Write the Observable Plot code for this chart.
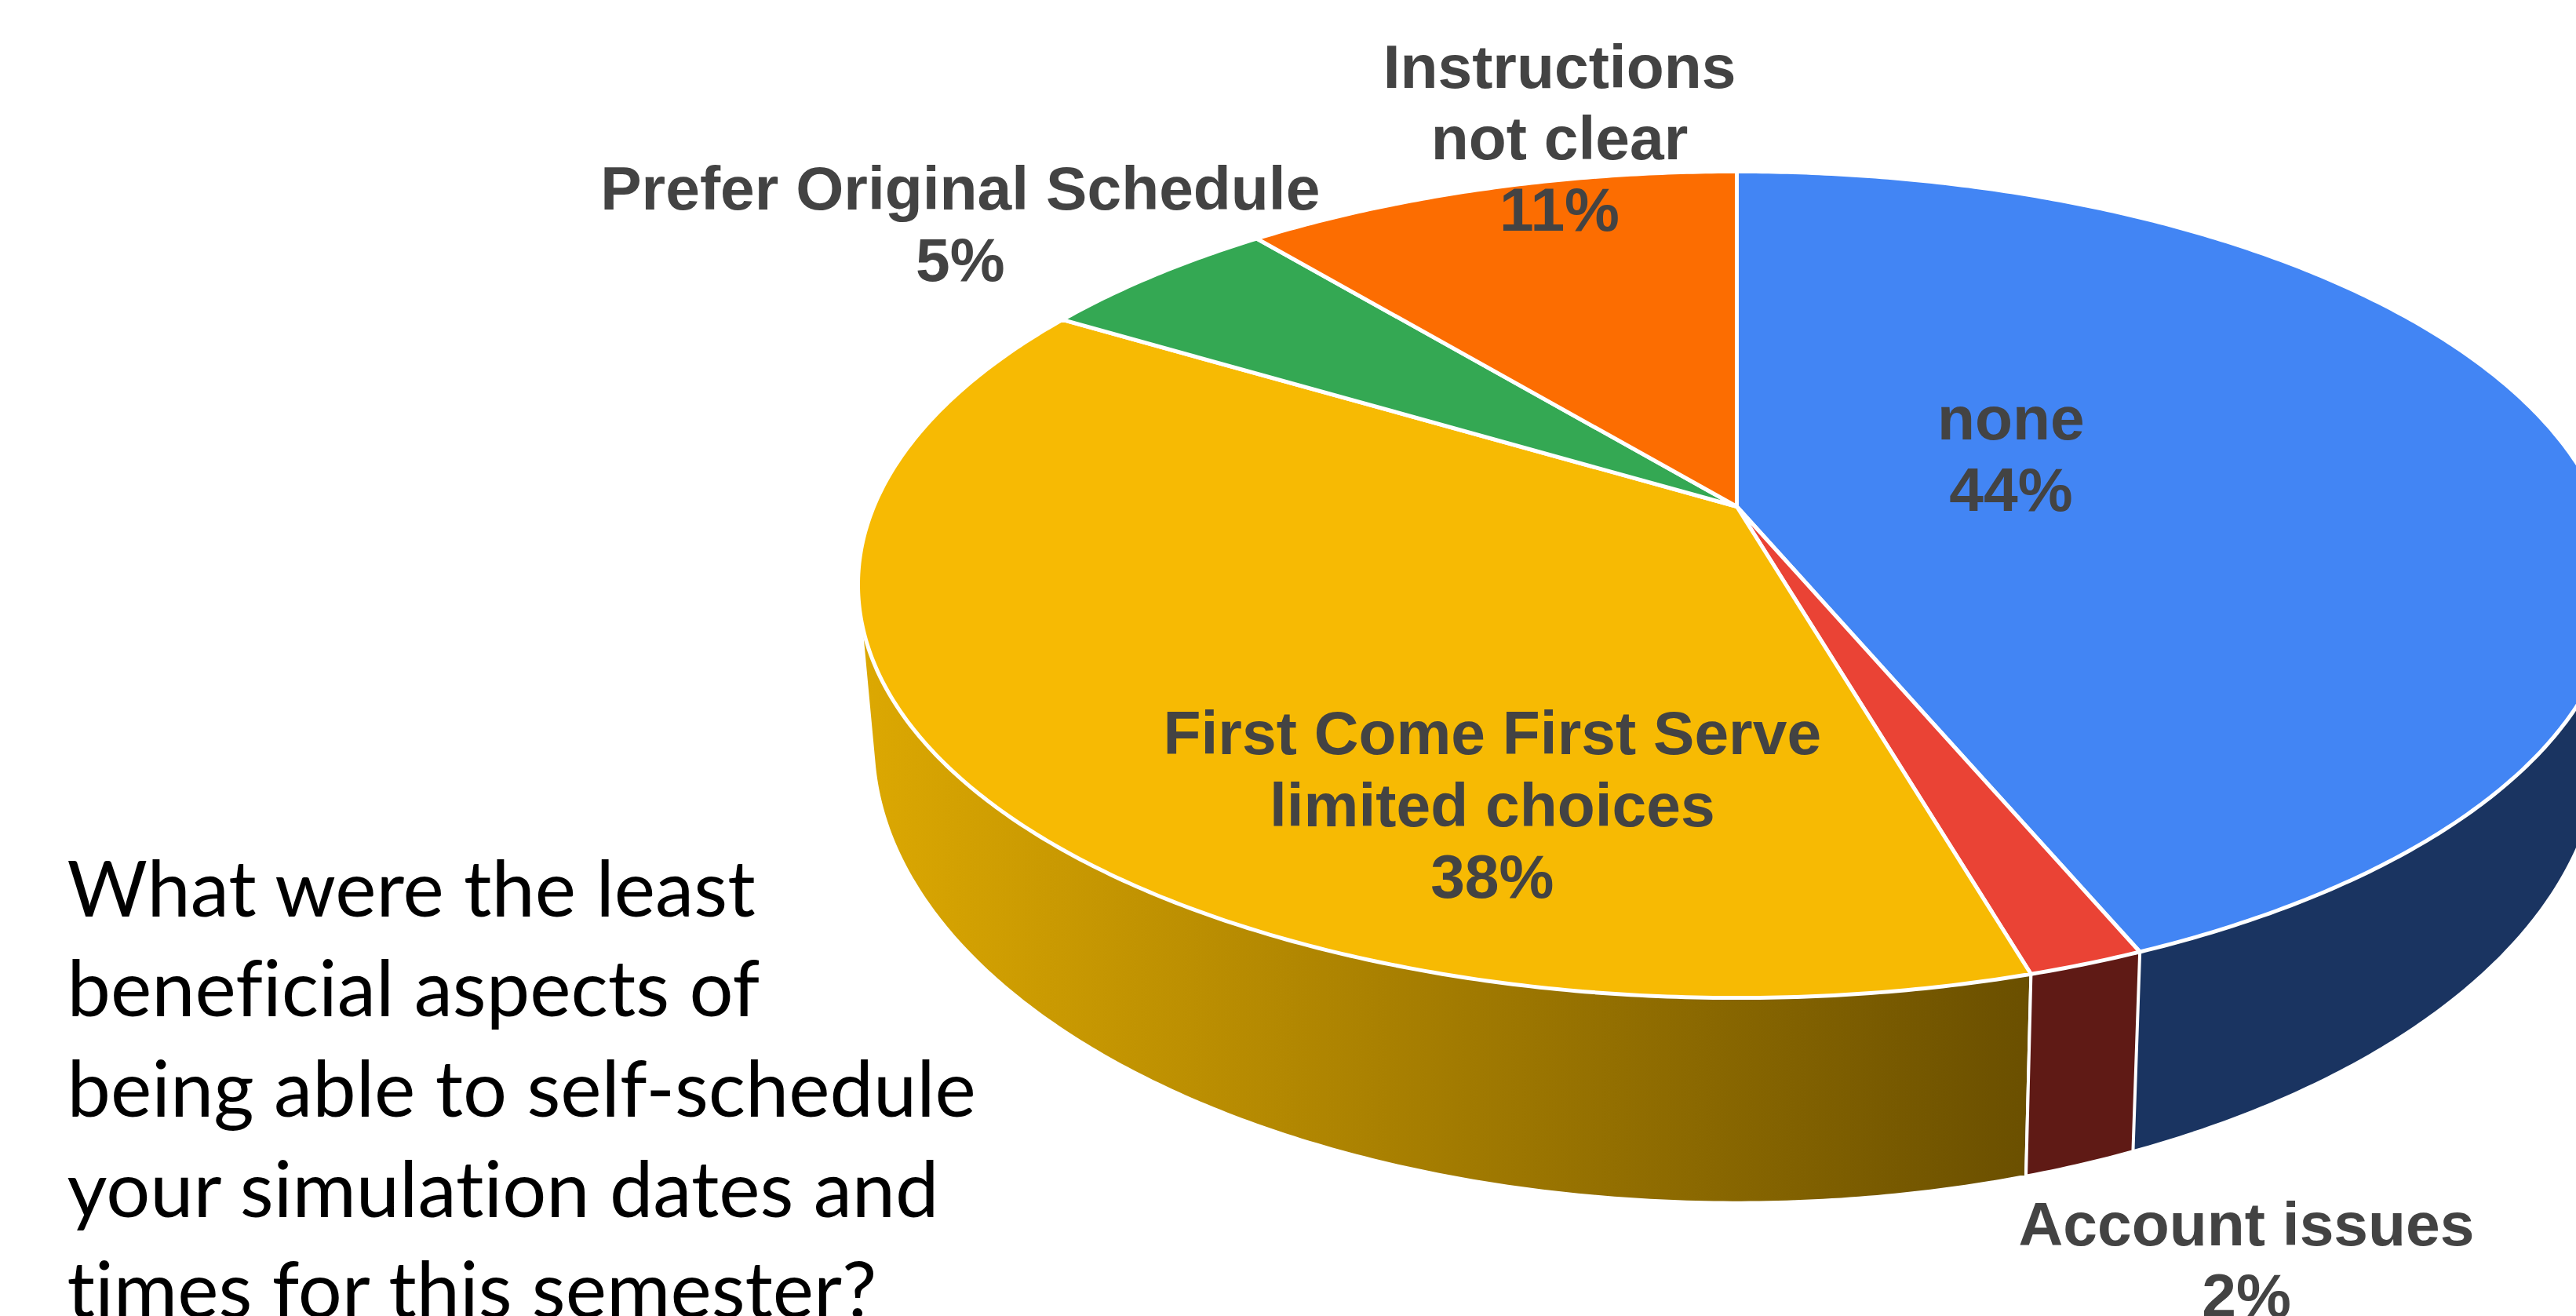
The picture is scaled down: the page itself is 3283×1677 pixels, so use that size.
<!DOCTYPE html>
<html>
<head>
<meta charset="utf-8">
<style>
  html, body { margin: 0; padding: 0; background: #fff; overflow: hidden; }
  svg { display: block; }
  svg text { font-variant-ligatures: none; }
</style>
<script src="https://cdn.jsdelivr.net/npm/d3@7"></script>
<script src="https://cdn.jsdelivr.net/npm/@observablehq/plot@0.6"></script>
</head>
<body>
<div id="chart"></div>
<script>
// Data, clockwise from twelve o'clock
const categories = ["none", "Account issues", "First Come First Serve\nlimited choices", "Prefer Original Schedule", "Instructions\nnot clear"];
const shares = [43.7, 1.8, 38.1, 5.4, 11.0];
const percentLabels = ["44%", "2%", "38%", "5%", "11%"];
const topColors = ["#4285f4", "#ea4335", "#f7ba03", "#34a853", "#fc6d01"];
const sideColors = ["#1a3461", "#5f1a15", "url(#yellowSide)", "#1f6432", "#973f00"];
const question = "What were the least\nbeneficial aspects of\nbeing able to self-schedule\nyour simulation dates and\ntimes for this semester?";

// Layout: size of the page and the tilted-disc view
const W = 3283, H = 1677;
const view = {cx: 2213, cy: 645, a: 2686, b: 5818, d: 5.29, rimMidY: 744.5, floorMidY: 945, floorSx: 0.983, floorSy: 1.115};
// Label anchor in pie space: bearing (degrees clockwise from top) and radius (1 = rim)
const labelBearing = [68.4, 162.7, 200.6, -52, -12.6];
const labelRadius = [0.35, 1.462, 0.705, 1.317, 1.14];
// Walls are painted in this order, so the thin wall stays on top of its neighbours
const wallOrder = [0, 2, 1];

function project(theta, r) {
  const u = r * Math.sin(theta), v = -r * Math.cos(theta), k = view.d - v;
  return [view.cx + view.b * u / k, view.cy + view.a * v / k];
}
function lower([x, y]) {
  return [view.cx + view.floorSx * (x - view.cx), view.floorMidY + view.floorSy * (y - view.rimMidY)];
}

const arcs = d3.pie().sort(null).value(d => d)(shares);

function arcPoints(arc) {
  const n = Math.max(2, Math.ceil((arc.endAngle - arc.startAngle) / (Math.PI / 360)));
  return d3.range(n + 1).map(i => project(arc.startAngle + (arc.endAngle - arc.startAngle) * i / n, 1));
}

const topKeys = categories.map((c, i) => "top" + i);
const sideKeys = categories.map((c, i) => "side" + i);

const topRows = arcs.flatMap((arc, i) =>
  [[view.cx, view.cy], ...arcPoints(arc)].map(([x, y]) => ({key: topKeys[i], x, y})));

// Each wall is the hull of its rim arc and the same arc on the floor; the disc covers what lies behind it
const sideRows = wallOrder.flatMap(i => {
  const rim = arcPoints(arcs[i]);
  return d3.polygonHull([...rim, ...rim.map(lower)]).map(([x, y]) => ({key: sideKeys[i], x, y}));
});

const labelRows = categories.map((c, i) => {
  const [x, y] = project(labelBearing[i] * Math.PI / 180, labelRadius[i]);
  return {text: c + "\n" + percentLabels[i], x, y};
});

const gradient = (index, scales) => {
  const defs = d3.create("svg:defs");
  const g = defs.append("linearGradient").attr("id", "yellowSide")
    .attr("gradientUnits", "userSpaceOnUse")
    .attr("x1", scales.x(1100)).attr("y1", 0).attr("x2", scales.x(2590)).attr("y2", 0);
  g.append("stop").attr("offset", "0%").attr("stop-color", "#dca802");
  g.append("stop").attr("offset", "100%").attr("stop-color", "#6a4f00");
  return defs.node();
};

const chart = Plot.plot({
  width: W,
  height: H,
  margin: 0,
  style: {background: "#fff"},
  x: {domain: [0, W], range: [0, W], axis: null},
  y: {domain: [0, H], range: [0, H], axis: null},
  color: {type: "ordinal", domain: [...topKeys, ...sideKeys], range: [...topColors, ...sideColors]},
  marks: [
    gradient,
    Plot.line(sideRows, {x: "x", y: "y", z: "key", fill: "key", stroke: "white", strokeWidth: 4, curve: "linear-closed"}),
    Plot.line(topRows, {x: "x", y: "y", z: "key", fill: "key", stroke: "white", strokeWidth: 5, curve: "linear-closed"}),
    Plot.text(labelRows, {x: "x", y: "y", dy: -5, text: "text", fontFamily: "Liberation Sans", fontWeight: 700, fontSize: 78.6, lineHeight: 1.16, fill: "#434343"}),
    Plot.text([question], {frameAnchor: "bottom-left", dx: 85, dy: 1, lineAnchor: "bottom", textAnchor: "start", fontFamily: "Lato", fontSize: 99, lineHeight: 1.29, fill: "#000"})
  ]
});
document.getElementById("chart").append(chart);
</script>
</body>
</html>
